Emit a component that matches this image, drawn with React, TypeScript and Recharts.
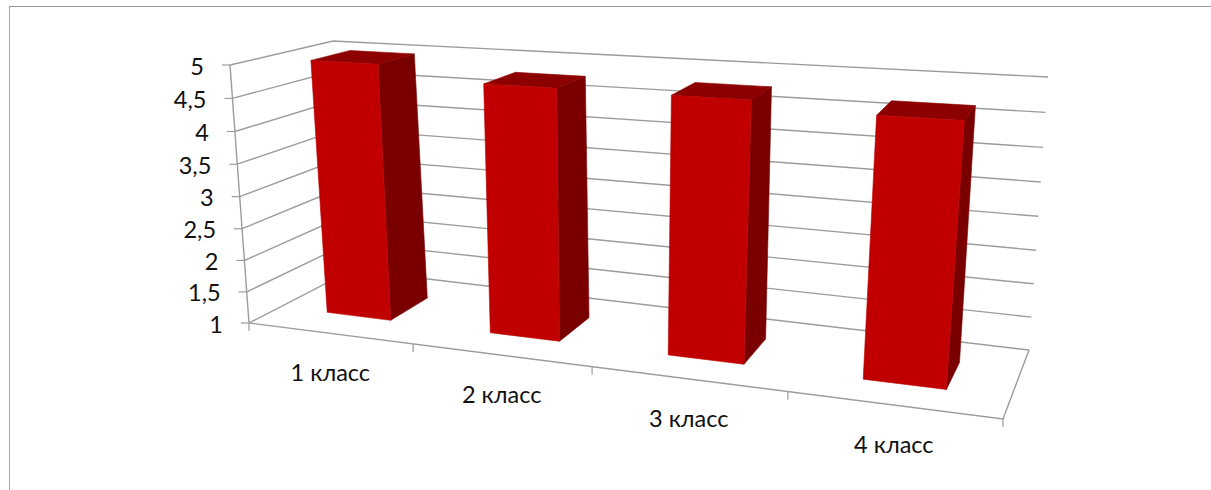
import { BarChart, Bar, XAxis, YAxis, CartesianGrid } from 'recharts';

const classes = ['1 класс', '2 класс', '3 класс', '4 класс'];
const marks = [5, 4.8, 4.8, 4.7];
const valueTicks = [1, 1.5, 2, 2.5, 3, 3.5, 4, 4.5, 5];

const data = classes.map((name, i) => ({ name, mark: marks[i] }));

const WIDTH = 1211;
const HEIGHT = 490;
const PLOT = { left: 40, right: 1171, top: 40, bottom: 450 };
const GRID = '#9c9c9c';
const FONT = 'Lato, Carlito, "Open Sans", sans-serif';

// corners of the 3d box on the page: [t, v, depth] -> screen
const BOX = {
  floorFrontL: [249, 323],
  floorFrontR: [1003, 419],
  floorBackL: [352, 270],
  floorBackR: [1029, 350],
  topFrontL: [230, 65],
  topFrontR: [1028, 113],
  topBackL: [333, 41],
  topBackR: [1048, 77],
};

const warp = (a: number, r: number) => (a * r) / (a * r + 1 - a);
const mix = (a: number[], b: number[], k: number) => [a[0] + (b[0] - a[0]) * k, a[1] + (b[1] - a[1]) * k];

// plot coordinates to perspective coordinates
function project(t: number, v: number, d: number) {
  const s = warp(t, 0.835);
  const h = warp(v, 0.96);
  const floor = mix(mix(BOX.floorFrontL, BOX.floorFrontR, s), mix(BOX.floorBackL, BOX.floorBackR, s), d);
  const top = mix(mix(BOX.topFrontL, BOX.topFrontR, s), mix(BOX.topBackL, BOX.topBackR, s), d);
  return mix(floor, top, h);
}

const toT = (x: number) => (x - PLOT.left) / (PLOT.right - PLOT.left);
const toV = (y: number) => (PLOT.bottom - y) / (PLOT.bottom - PLOT.top);
const toPath = (pts: number[][], close = false) =>
  pts.map((p, i) => `${i ? 'L' : 'M'}${p[0].toFixed(1)},${p[1].toFixed(1)}`).join(' ') + (close ? ' Z' : '');

function Bar3D(props: any) {
  const { x, y, width, height } = props;
  const t0 = toT(x);
  const t1 = toT(x + width);
  const v1 = toV(y);
  const v0 = toV(y + height);
  const d0 = 0.31;
  const d1 = 0.71;
  const front = [project(t0, v0, d0), project(t1, v0, d0), project(t1, v1, d0), project(t0, v1, d0)];
  const side = [project(t1, v0, d0), project(t1, v0, d1), project(t1, v1, d1), project(t1, v1, d0)];
  const top = [project(t0, v1, d0), project(t1, v1, d0), project(t1, v1, d1), project(t0, v1, d1)];
  return (
    <g strokeWidth={0.6} strokeLinejoin="round">
      <path d={toPath(side, true)} fill="#7a0000" stroke="#7a0000" />
      <path d={toPath(top, true)} fill="#8c0000" stroke="#8c0000" />
      <path d={toPath(front, true)} fill="#c00000" stroke="#c00000" />
    </g>
  );
}

function gridLine(p: any) {
  const v = toV(p.y1);
  const isFloor = Math.abs(v) < 0.001;
  const isTop = Math.abs(v - 1) < 0.001;
  const line = [project(0, v, 0), project(0, v, 1), project(1, v, 1)];
  return (
    <g key={p.key ?? p.y1}>
      <path d={toPath(line)} fill="none" stroke={GRID} strokeWidth={1.4} />
      {isFloor && (
        <path d={toPath([project(0, 0, 0), project(1, 0, 0), project(1, 0, 1)])} fill="none" stroke={GRID} strokeWidth={1.4} />
      )}
      {isTop && <path d={toPath([project(0, 1, 0), project(0, 0, 0)])} fill="none" stroke={GRID} strokeWidth={1.4} />}
    </g>
  );
}

function ValueTick(props: any) {
  const { y, payload } = props;
  const [px, py] = project(0, toV(y), 0);
  return (
    <g>
      <path d={`M${px - 8},${py} L${px},${py}`} stroke={GRID} strokeWidth={1.2} />
      <text x={px - 26} y={py + 9.5} textAnchor="end" fontFamily={FONT} fontSize={23.5} fill="#111">
        {String(payload.value).replace('.', ',')}
      </text>
    </g>
  );
}

function ClassTick(props: any) {
  const { x, payload, index } = props;
  const t = toT(x);
  const half = 0.5 / classes.length;
  const [lx, ly] = project(t, 0, 0);
  const end = project(t + half, 0, 0);
  const start = project(t - half, 0, 0);
  return (
    <g>
      {index === 0 && <path d={`M${start[0]},${start[1]} v8`} stroke={GRID} strokeWidth={1.2} />}
      <path d={`M${end[0]},${end[1]} v8`} stroke={GRID} strokeWidth={1.2} />
      <text x={lx + 1} y={ly + 48} textAnchor="middle" fontFamily={FONT} fontSize={23.5} fill="#111">
        {payload.value}
      </text>
    </g>
  );
}

export default function App() {
  return (
    <div style={{ position: 'absolute', left: 0, top: 0, width: WIDTH, height: HEIGHT, background: '#fff', overflow: 'hidden' }}>
      <div
        style={{
          position: 'absolute',
          left: 9,
          top: 6,
          width: 1300,
          height: 500,
          borderTop: '1.5px solid #999',
          borderLeft: '1.5px solid #a6a6a6',
        }}
      />
      <div style={{ position: 'absolute', left: 0, top: 0 }}>
        <BarChart
          width={WIDTH}
          height={HEIGHT}
          data={data}
          barCategoryGap="30%"
          margin={{ top: 40, right: 40, bottom: 10, left: 10 }}
        >
          <CartesianGrid vertical={false} horizontal={gridLine} />
          <XAxis dataKey="name" height={30} axisLine={false} tickLine={false} interval={0} tick={ClassTick} />
          <YAxis width={30} domain={[1, 5]} ticks={valueTicks} interval={0} axisLine={false} tickLine={false} tick={ValueTick} />
          <Bar dataKey="mark" shape={Bar3D} isAnimationActive={false} />
        </BarChart>
      </div>
    </div>
  );
}
